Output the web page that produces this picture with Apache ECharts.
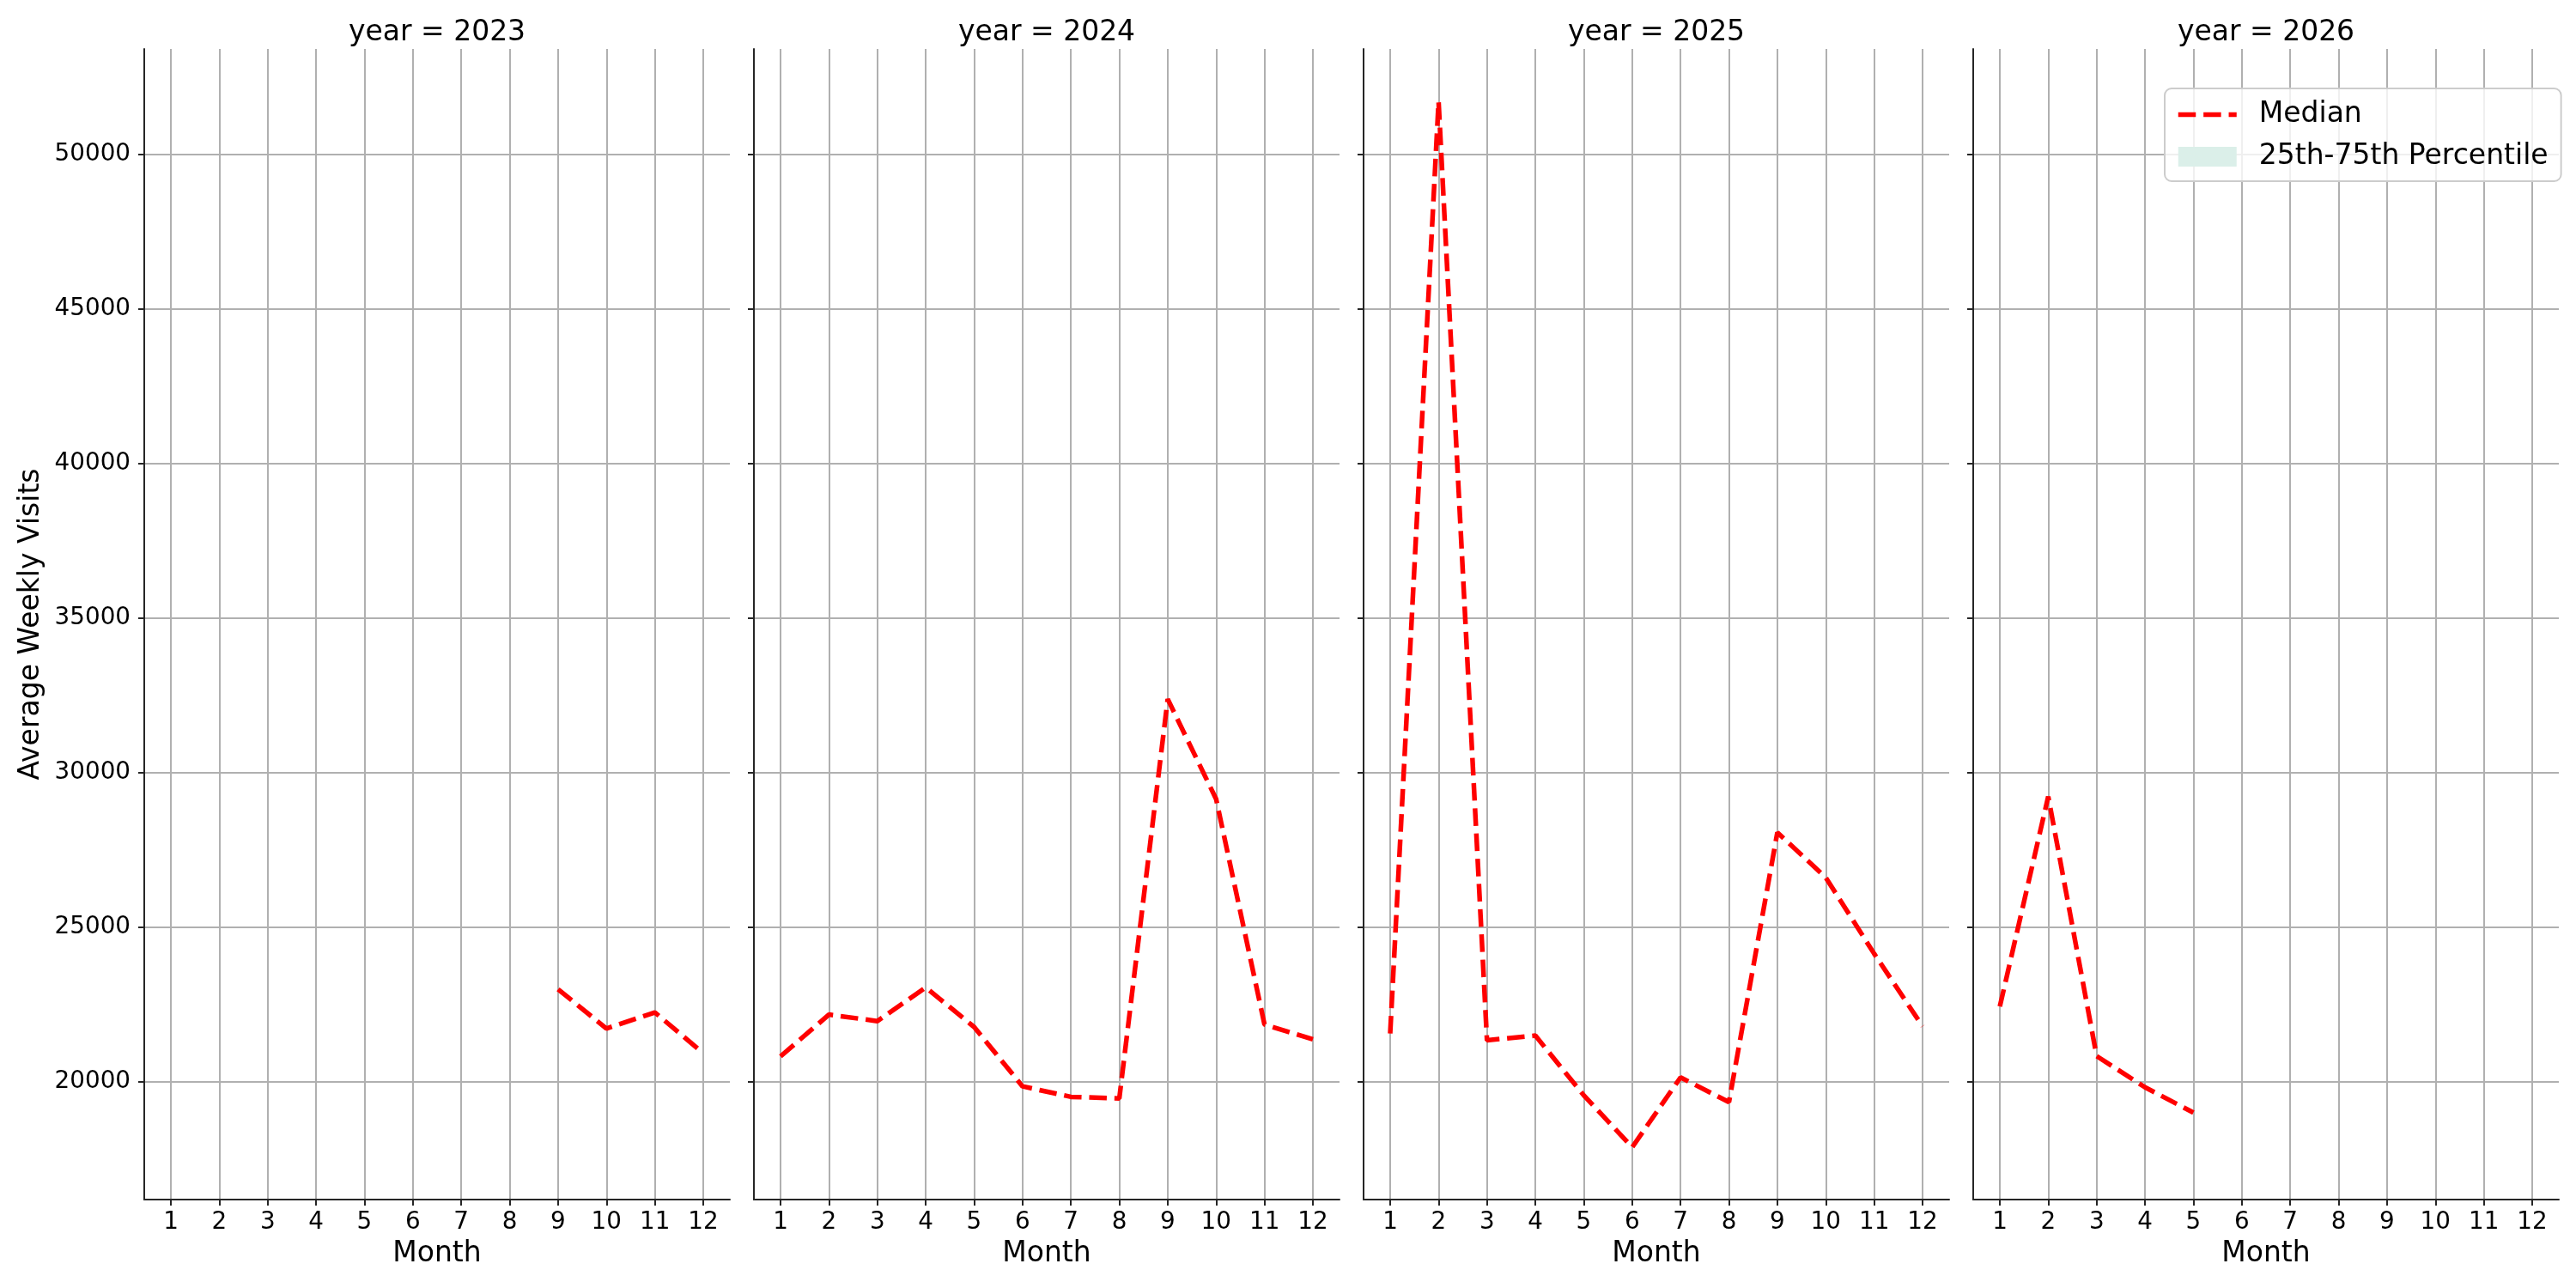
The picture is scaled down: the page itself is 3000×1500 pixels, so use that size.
<!DOCTYPE html>
<html>
<head>
<meta charset="utf-8">
<script src="https://cdn.jsdelivr.net/npm/echarts@6/dist/echarts.min.js"></script>
<style>
  html, body { margin: 0; padding: 0; background: #fff; }
  #chart { width: 3000px; height: 1500px; }
</style>
</head>
<body>
<div id="chart"></div>
<script>
var months = [1, 2, 3, 4, 5, 6, 7, 8, 9, 10, 11, 12];
var years = ['2023', '2024', '2025', '2026'];
var yTicks = [20000, 25000, 30000, 35000, 40000, 45000, 50000];

// median average weekly visits per month (null = no data)
var median2023 = [null, null, null, null, null, null, null, null, 23000, 21730, 22250, 20930];
var median2024 = [20830, 22180, 21970, 23060, 21780, 19860, 19520, 19470, 32380, 29150, 21860, 21380];
var median2025 = [21570, 51700, 21350, 21500, 19570, 17890, 20150, 19350, 28070, 26610, 24150, 21800];
var median2026 = [22440, 29230, 20840, 19830, 19010, null, null, null, null, null, null, null];
var medians = [median2023, median2024, median2025, median2026];

var chart = echarts.init(document.getElementById('chart'));
var font = 'DejaVu Sans';
var panelLeft = [168, 878, 1588, 2298];
var panelW = 682;

var grids = [], xAxes = [], yAxes = [], series = [], titles = [];

panelLeft.forEach(function(left, i){
  grids.push({left: left, top: 57, width: panelW, height: 1340});

  titles.push({
    text: 'year = ' + years[i],
    left: left + panelW / 2,
    top: 22,
    textAlign: 'center',
    padding: 0,
    textStyle: {fontFamily: font, fontSize: 33, fontWeight: 'normal', color: '#000'}
  });

  xAxes.push({
    type: 'value',
    gridIndex: i,
    min: 0.45,
    max: 12.55,
    name: 'Month',
    nameLocation: 'middle',
    nameGap: 47,
    nameTextStyle: {fontFamily: font, fontSize: 33, color: '#000'},
    axisLine: {show: true, onZero: false, lineStyle: {color: '#262626', width: 2}},
    axisTick: {show: true, length: 7, customValues: months, lineStyle: {color: '#262626', width: 2}},
    axisLabel: {show: true, customValues: months, margin: 13, fontFamily: font, fontSize: 27.8, color: '#000'},
    splitLine: {show: true, lineStyle: {color: '#b0b0b0', width: 2}}
  });

  yAxes.push({
    type: 'value',
    gridIndex: i,
    min: 16200,
    max: 53400,
    name: i === 0 ? 'Average Weekly Visits' : '',
    nameLocation: 'middle',
    nameGap: 115,
    nameTextStyle: {fontFamily: font, fontSize: 33, color: '#000'},
    axisLine: {show: true, lineStyle: {color: '#262626', width: 2}},
    axisTick: {show: true, length: 7, customValues: yTicks, lineStyle: {color: '#262626', width: 2}},
    axisLabel: {
      show: i === 0, customValues: yTicks, margin: 16,
      fontFamily: font, fontSize: 27.8, color: '#000',
      formatter: function(v){ return String(v); }
    },
    splitLine: {show: true, lineStyle: {color: '#b0b0b0', width: 2}}
  });

  var pts = [];
  months.forEach(function(m, k){
    if (medians[i][k] !== null) pts.push([m, medians[i][k]]);
  });
  series.push({
    name: 'Median',
    type: 'line',
    xAxisIndex: i,
    yAxisIndex: i,
    data: pts,
    symbol: 'none',
    color: '#ff0000',
    lineStyle: {color: '#ff0000', width: 5.5, type: [20.5, 8.9]},
    silent: true,
    animation: false
  });
});

// the percentile band has no drawn data, it only shows in the legend
series.push({
  name: '25th-75th Percentile',
  type: 'line',
  xAxisIndex: 3,
  yAxisIndex: 3,
  data: [],
  color: '#dbefe9',
  animation: false
});

var options = {
  backgroundColor: '#fff',
  animation: false,
  title: titles,
  grid: grids,
  xAxis: xAxes,
  yAxis: yAxes,
  legend: {
    orient: 'vertical',
    left: 2521,
    top: 103,
    padding: [14, 15, 12, 13],
    itemWidth: 68,
    itemHeight: 23,
    itemGap: 16,
    borderColor: '#cccccc',
    borderWidth: 2,
    borderRadius: 8,
    backgroundColor: 'rgba(255,255,255,0.8)',
    lineStyle: {width: 5.5},
    textStyle: {fontFamily: font, fontSize: 33, color: '#000', padding: [0, 0, 0, 21]},
    data: [
      {name: 'Median', itemStyle: {opacity: 0, borderWidth: 0},
       lineStyle: {color: '#ff0000', width: 5.5, type: [20.5, 8.9], opacity: 1}},
      {name: '25th-75th Percentile', icon: 'rect', itemStyle: {color: '#dbefe9', borderWidth: 0}}
    ]
  },
  series: series
};
chart.setOption(options);
</script>
</body>
</html>
